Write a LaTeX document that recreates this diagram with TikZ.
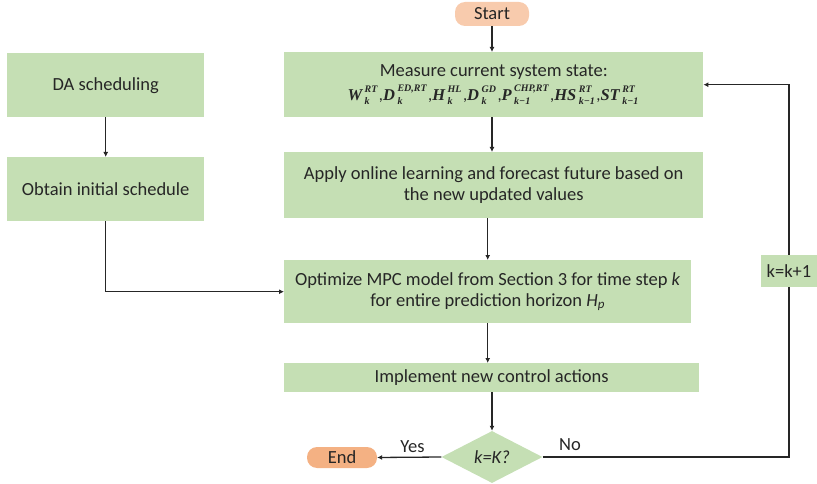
\documentclass[tikz,border=0pt]{standalone}
\usepackage{amsmath,amssymb}
\usepackage{fontspec}
\setmainfont{Carlito}
\newfontfamily\varfont{Liberation Serif}
\usetikzlibrary{arrows.meta, shapes.geometric}
\definecolor{boxgreen}{HTML}{C5DFB4}
\definecolor{endorange}{HTML}{F4B183}
\definecolor{startorange}{HTML}{F8CBAD}
\definecolor{linegray}{HTML}{262626}
\newcommand{\mv}[1]{{\varfont\bfseries\itshape #1}}
\newcommand{\stvar}[3]{\mv{#1}\kern2.5pt\raisebox{-4pt}{\fontsize{10}{10}\selectfont\shortstack[l]{\mv{#3}\\[2pt]\mv{#2}}}\kern1.5pt}
\tikzset{
	stepbox/.style={fill=boxgreen, text=linegray, align=center, inner sep=2pt},
	termbox/.style={rounded corners=10pt, text=linegray, minimum height=22pt, inner sep=2pt},
	arr/.style={-{Latex[length=5pt,width=5pt]}, line width=1.3pt, draw=linegray},
	ln/.style={line width=1.3pt, draw=linegray}
}

\begin{document}
\begin{tikzpicture}[x=1pt, y=-1pt, font=\fontsize{18.5}{21}\selectfont]
	\useasboundingbox (0,0) rectangle (817,484);
	\node[termbox, fill=startorange, minimum width=74pt, minimum height=24pt] (start) at (492,14) {Start};
	\node[stepbox, anchor=north west, minimum width=419pt, minimum height=65pt] (measure) at (284,52) {Measure current system state:\\[3pt] \fontsize{16.5}{19}\selectfont\stvar{W}{k}{RT},\stvar{D}{k}{ED,RT},\stvar{H}{k}{HL},\stvar{D}{k}{GD},\stvar{P}{k−1}{CHP,RT},\stvar{HS}{k−1}{RT},\stvar{ST}{k−1}{RT}};
	\node[stepbox, anchor=north west, minimum width=419pt, minimum height=66pt] (apply) at (284,152) {Apply online learning and forecast future based on\\ the new updated values};
	\node[stepbox, anchor=north west, minimum width=407pt, minimum height=63pt] (optimize) at (284,260) {Optimize MPC model from Section 3 for time step \textit{k}\\ for entire prediction horizon \textit{H}\textsubscript{\textit{p}}};
	\node[stepbox, anchor=north west, minimum width=415pt, minimum height=29pt] (implement) at (284,363) {Implement new control actions};
	\node[diamond, fill=boxgreen, text=linegray, minimum width=101pt, minimum height=52pt, inner sep=0pt] (decide) at (492,457) {\textit{k=K?}};
	\node[termbox, fill=endorange, minimum width=70pt, minimum height=21pt] (finish) at (342,457.5) {End};
	\node[stepbox, anchor=north west, minimum width=197pt, minimum height=64pt] (da) at (7,53) {DA scheduling};
	\node[stepbox, anchor=north west, minimum width=197pt, minimum height=64pt] (obtain) at (7,157) {Obtain initial schedule};
	\node[stepbox, minimum width=56pt, minimum height=32pt] (incr) at (789,271) {k=k+1};

	\draw[arr] (start) -- (start |- measure.north);
	\draw[arr] (measure.south -| start) -- (apply.north -| start);
	\draw[arr] (apply.south -| optimize.north) -- (optimize.north);
	\draw[arr] (optimize.south) -- (optimize.south |- implement.north);
	\draw[arr] (implement.south -| decide) -- (decide.north);
	\draw[arr] (da) -- (obtain);
	\draw[arr] (obtain.south) |- (optimize.west);
	\draw[arr] (decide.west) -- (finish.east) node[pos=0.45, above=1pt, text=linegray] {Yes};
	\draw[ln] (decide.east) -| (incr.south);
	\draw[arr] (incr.north) |- (measure.east);
	\node[text=linegray] (nolabel) at (570,445) {No};
\end{tikzpicture}
\end{document}
